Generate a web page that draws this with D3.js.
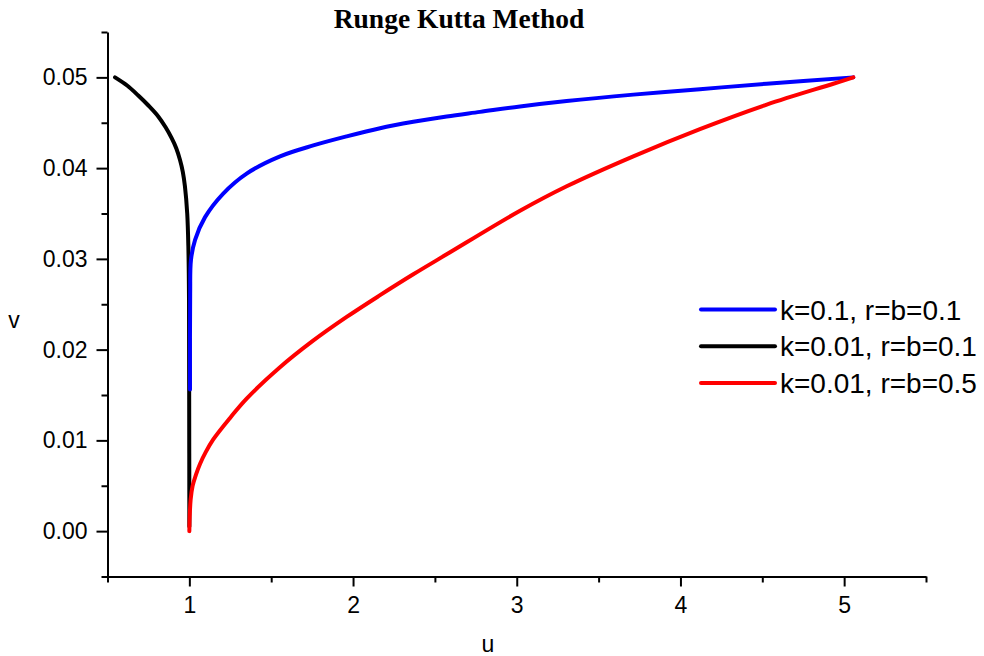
<!DOCTYPE html>
<html>
<head>
<meta charset="utf-8">
<script src="https://cdn.jsdelivr.net/npm/d3@7"></script>
<style>
  body { margin: 0; background: #fff; }
  svg text { font-family: "Liberation Sans", Arial, sans-serif; fill: #000; }
</style>
</head>
<body>
<svg id="chart" width="984" height="656"></svg>
<script>
// series, [u, v]
const blackSeries = [[0.546,0.0500],[0.62,0.0491],[0.688,0.0480],[0.750,0.0469],[0.810,0.0457],[0.855,0.0445],[0.892,0.0433],[0.920,0.0422],[0.943,0.0409],[0.960,0.0396],[0.973,0.0380],[0.987,0.0350],[0.994,0.0313],[0.998,0.0255],[0.999,0.0145],[1.0,0.0005]];
const blueSeries = [[1.004,0.0156],[1.005,0.0262],[1.010,0.0299],[1.035,0.0321],[1.096,0.0346],[1.207,0.0372],[1.350,0.0394],[1.554,0.0413],[1.757,0.0425],[1.961,0.0435],[2.165,0.0444],[2.368,0.0451],[2.572,0.0457],[2.776,0.0462],[3.020,0.0468],[3.305,0.0474],[3.712,0.0481],[4.119,0.0487],[4.527,0.0493],[5.056,0.0500]];
const redSeries = [[1.0,0.0],[1.002,0.0015],[1.008,0.0035],[1.020,0.0050],[1.040,0.0062],[1.065,0.0074],[1.100,0.0087],[1.146,0.0101],[1.250,0.0125],[1.350,0.0146],[1.550,0.0180],[1.750,0.0209],[1.961,0.0236],[2.165,0.0260],[2.368,0.0283],[2.572,0.0305],[3.020,0.0353],[3.305,0.0380],[3.712,0.0413],[4.119,0.0443],[4.527,0.0470],[4.934,0.0493],[5.056,0.0500]];

const seriesNames = ["k=0.1, r=b=0.1", "k=0.01, r=b=0.1", "k=0.01, r=b=0.5"];
const seriesColors = ["#0000ff", "#000000", "#ff0000"];

const xMajor = [1, 2, 3, 4, 5];
const xMinor = [0.5, 1.5, 2.5, 3.5, 4.5, 5.5];
const yMajor = [0, 0.01, 0.02, 0.03, 0.04, 0.05];
const yMinor = [-0.005, 0.005, 0.015, 0.025, 0.035, 0.045, 0.055];

const svg = d3.select("#chart");

const x = d3.scaleLinear().domain([0.5, 5.5]).range([107.5, 926]);
const y = d3.scaleLinear().domain([-0.005, 0.055]).range([576.5, 32]);

// minor ticks first, then major ones with labels
svg.append("g")
    .attr("transform", "translate(0,576.5)")
    .call(d3.axisBottom(x).tickValues(xMinor).tickSize(6).tickFormat(""))
    .call(g => g.select(".domain").remove())
    .selectAll("line").attr("stroke-width", 2);

const xAxis = svg.append("g")
    .attr("transform", "translate(0,576.5)")
    .call(d3.axisBottom(x).tickValues(xMajor).tickSize(10).tickSizeOuter(0).tickPadding(10).tickFormat(d3.format("d")));
xAxis.select(".domain").attr("stroke-width", 2);
xAxis.selectAll("line").attr("stroke-width", 2);
xAxis.selectAll("text").attr("font-size", 23).style("font-family", "Liberation Sans, Arial, sans-serif");

svg.append("g")
    .attr("transform", "translate(107.5,0)")
    .call(d3.axisLeft(y).tickValues(yMinor).tickSize(6).tickFormat(""))
    .call(g => g.select(".domain").remove())
    .selectAll("line").attr("stroke-width", 2);

const yAxis = svg.append("g")
    .attr("transform", "translate(107.5,0)")
    .call(d3.axisLeft(y).tickValues(yMajor).tickSize(11).tickSizeOuter(0).tickPadding(9).tickFormat(d3.format(".2f")));
yAxis.select(".domain").attr("stroke-width", 2);
yAxis.selectAll("line").attr("stroke-width", 2);
yAxis.selectAll("text").attr("font-size", 23).style("font-family", "Liberation Sans, Arial, sans-serif");

// curves
const line = d3.line()
    .x(d => x(d[0]))
    .y(d => y(d[1]))
    .curve(d3.curveCatmullRom.alpha(0.5));

const drawOrder = [[blackSeries, 1], [blueSeries, 0], [redSeries, 2]];
drawOrder.forEach(([data, i]) => {
    svg.append("path")
        .datum(data)
        .attr("d", line)
        .attr("fill", "none")
        .attr("stroke", seriesColors[i])
        .attr("stroke-width", 4)
        .attr("stroke-linecap", "round")
        .attr("stroke-linejoin", "round");
});

// legend
const legend = svg.append("g").attr("transform", "translate(701,309.5)");
seriesNames.forEach((name, i) => {
    const row = legend.append("g").attr("transform", `translate(0,${i * 36.7})`);
    row.append("line")
        .attr("x1", 0).attr("x2", 74)
        .attr("stroke", seriesColors[i])
        .attr("stroke-width", 4)
        .attr("stroke-linecap", "round");
    row.append("text")
        .attr("x", 79)
        .attr("dy", "0.36em")
        .attr("font-size", 28)
        .text(name);
});

// titles
svg.append("text")
    .attr("x", 459).attr("y", 28)
    .attr("text-anchor", "middle")
    .style("font-family", "Liberation Serif, Times New Roman, serif")
    .attr("font-weight", "bold")
    .attr("font-size", 27.5)
    .text("Runge Kutta Method");

svg.append("text")
    .attr("x", 14).attr("y", 328)
    .attr("text-anchor", "middle")
    .attr("font-size", 23)
    .text("v");

svg.append("text")
    .attr("x", 488).attr("y", 652)
    .attr("text-anchor", "middle")
    .attr("font-size", 23)
    .text("u");
</script>
</body>
</html>
